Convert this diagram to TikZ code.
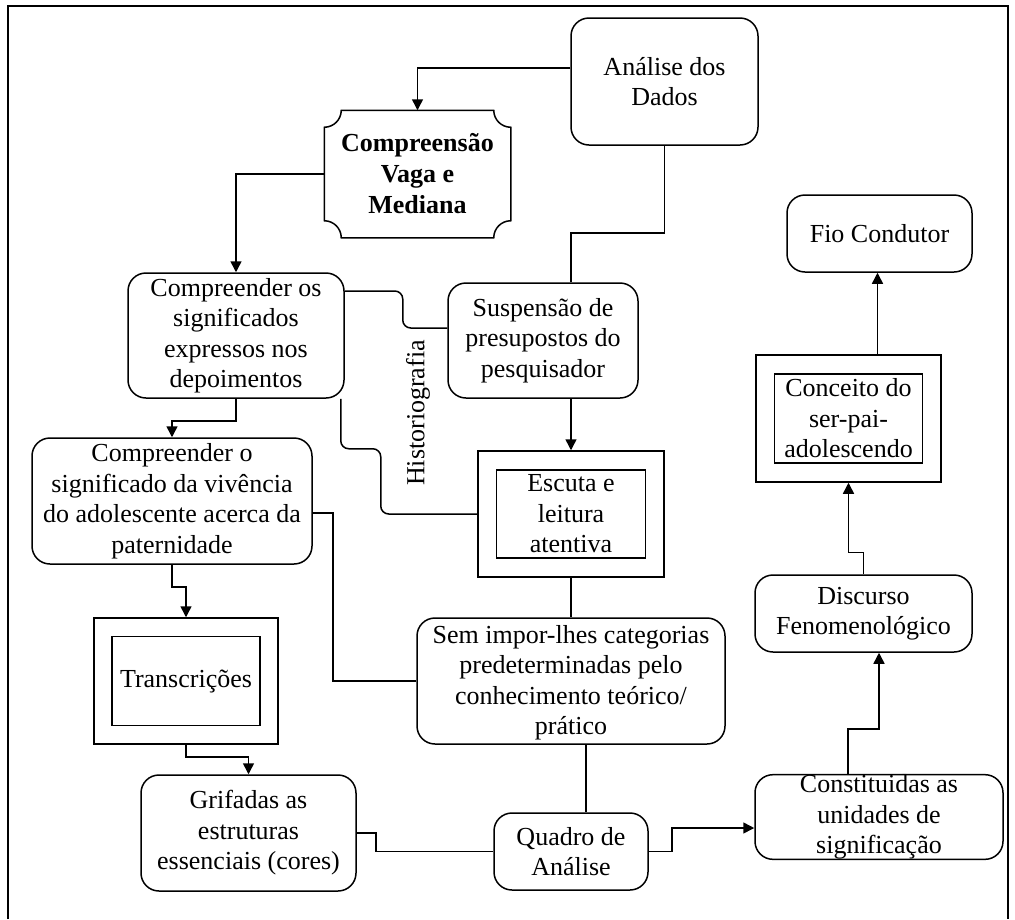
\documentclass[tikz,border=0pt]{standalone}
\usepackage{fontspec}
\setmainfont{Liberation Serif}
\usetikzlibrary{arrows.meta}

\begin{document}
\begin{tikzpicture}[x=1pt, y=-1pt, line width=1.5pt, font=\fontsize{26}{30.5}\selectfont]
  \tikzstyle{roundbox}=[rounded corners=18pt,draw,align=center,inner sep=1pt]
  \tikzstyle{outerbox}=[draw,inner sep=0pt]
  \tikzstyle{innerbox}=[draw,align=center,inner sep=1pt]
  \tikzstyle{flow}=[-{Triangle[length=11pt,width=11pt]}]
  \useasboundingbox (0,0) rectangle (1015,919);
  \draw (8,919) -- (8,6) -- (1008,6) -- (1008,919);

  \node[roundbox, minimum width=187pt, minimum height=127pt] (ana) at (664.5,81.5) {Análise dos\\Dados};
  \node[minimum width=185pt, minimum height=126pt, align=center, inner sep=1pt, font=\fontsize{26}{31}\selectfont\bfseries] (cvm) at (417.5,174) {Compreensão\\Vaga e\\Mediana};
  \draw ([xshift=17pt]cvm.north west) -- ([xshift=-17pt]cvm.north east) arc[start angle=180,end angle=270,radius=17pt]
    -- ([yshift=17pt]cvm.south east) arc[start angle=90,end angle=180,radius=17pt]
    -- ([xshift=17pt]cvm.south west) arc[start angle=0,end angle=90,radius=17pt]
    -- ([yshift=-17pt]cvm.north west) arc[start angle=270,end angle=360,radius=17pt] -- cycle;
  \node[roundbox, minimum width=216pt, minimum height=125pt] (cso) at (236,335.5) {Compreender os\\significados\\expressos nos\\depoimentos};
  \node[roundbox, minimum width=190pt, minimum height=115pt] (sus) at (543,340.5) {Suspensão de\\presupostos do\\pesquisador};
  \node[rotate=90] (hist) at (418,413) {Historiografia};
  \node[roundbox, minimum width=280pt, minimum height=126pt] (cos) at (172,501) {Compreender o\\significado da vivência\\do adolescente acerca da\\paternidade};
  \node[outerbox, minimum width=186pt, minimum height=126pt] (escbox) at (571,514) {};
  \node[innerbox, minimum width=149pt, minimum height=88pt] (esc) at (escbox) {Escuta e\\leitura\\atentiva};
  \node[roundbox, minimum width=308pt, minimum height=126pt, text depth=2pt] (sem) at (571,681) {Sem impor-lhes categorias\\predeterminadas pelo\\conhecimento teórico/\\prático};
  \node[outerbox, minimum width=184pt, minimum height=126pt] (trbox) at (186,681) {};
  \node[innerbox, minimum width=148pt, minimum height=89pt] (tr) at (trbox) {Transcrições};
  \node[roundbox, minimum width=215pt, minimum height=116pt] (gri) at (248.5,833) {Grifadas as\\estruturas\\essenciais (cores)};
  \node[roundbox, minimum width=154pt, minimum height=77pt] (qua) at (571,851.5) {Quadro de\\Análise};
  \node[roundbox, minimum width=248pt, minimum height=84pt, inner sep=0pt] (con) at (879,817) {Constituidas as\\unidades de\\significação};
  \node[roundbox, minimum width=217pt, minimum height=77pt] (dis) at (863.5,613.5) {Discurso\\Fenomenológico};
  \node[outerbox, minimum width=185pt, minimum height=127pt] (cobox) at (848.5,418.5) {};
  \node[innerbox, minimum width=148pt, minimum height=89pt] (cot) at (cobox) {Conceito do\\ser-pai-\\adolescendo};
  \node[roundbox, minimum width=185pt, minimum height=77pt] (fio) at (879.5,233.5) {Fio Condutor};

  \draw[flow] ([yshift=13.5pt]ana.west) -| (cvm.north);
  \draw (ana.south) -- ++(0,87) -| ([xshift=28pt]sus.north);
  \draw[flow] (cvm.west) -| (cso.north);
  \draw[rounded corners=8pt] ([yshift=44.5pt]cso.east) -- ++(58,0) |- ([yshift=12.5pt]sus.west);
  \draw[rounded corners=8pt] ([xshift=-4pt]cso.south east) -- ++(0,50) -- ++(40,0) |- (escbox.west);
  \draw[flow] (cso.south) -- ++(0,22) -| (cos.north);
  \draw[flow] ([xshift=28pt]sus.south) -- (escbox.north);
  \draw (escbox.south) -- (sem.north);
  \draw ([yshift=-12pt]cos.east) -- ++(20,0) |- (sem.west);
  \draw[flow] (cos.south) -- ++(0,22) -| (trbox.north);
  \draw[flow] (trbox.south) -- ++(0,12) -| (gri.north);
  \draw (gri.east) -- ++(19,0) |- (qua.west);
  \draw ([xshift=15pt]sem.south) -- ([xshift=15pt]qua.north);
  \draw[flow] (qua.east) -- ++(23,0) |- ([yshift=-11pt]con.west);
  \draw[flow] ([xshift=-31pt]con.north) -- ++(0,-45) -| ([xshift=15.5pt]dis.south);
  \draw[flow] (dis.north) -- ++(0,-22) -| (cobox.south);
  \draw[flow] ([xshift=29pt]cobox.north) -- ([xshift=-2pt]fio.south);
\end{tikzpicture}
\end{document}
